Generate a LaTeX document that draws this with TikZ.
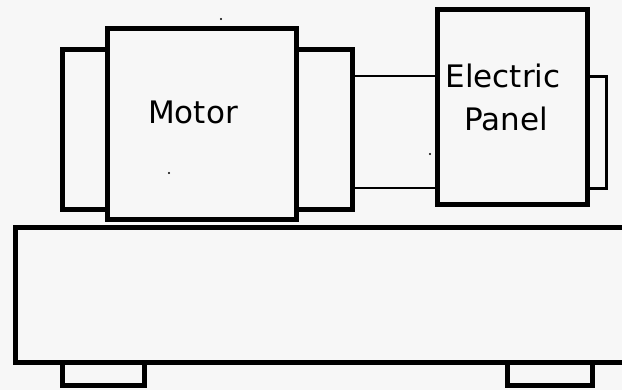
\documentclass[tikz,border=0pt]{standalone}
\usepackage{fontspec}
\setmainfont{DejaVu Sans}
\definecolor{paper}{HTML}{F7F7F7}
\begin{document}
\begin{tikzpicture}[x=1pt,y=-1pt,
  thickline/.style={draw=black,line width=5pt,fill=paper},
  thinline/.style={draw=black,line width=2pt},
  midline/.style={draw=black,line width=3pt,fill=paper},
  label/.style={font=\fontsize{31}{43}\selectfont,align=center,inner sep=0pt},
  speck/.style={fill=black}]
\fill[paper] (0,0) rectangle (622,390);
\useasboundingbox (0,0) rectangle (622,390);
\clip (0,0) rectangle (622,390);
% motor end caps
\draw[thickline] (62,49.5) rectangle (107.5,209.5);
\draw[thickline] (296.5,49.5) rectangle (352.5,209.5);
% motor body
\draw[thickline] (107.5,28.5) rectangle (296.5,219.5);
\node[label,anchor=base] (motor) at (193,124) {Motor};
% electric panel side box
\draw[midline] (587,76.5) rectangle (606.5,188.5);
% electric panel
\draw[thickline] (437,10) rectangle (587,204.5);
\node[label,anchor=base] (el) at (503,88) {Electric};
\node[label,anchor=base] (pa) at (506,131) {Panel};
% shaft lines
\coordinate (s1a) at (352.5,76.5);
\coordinate (s1b) at (437,76.5);
\coordinate (s2a) at (352.5,188);
\coordinate (s2b) at (437,188);
\draw[thinline] (s1a) -- (s1b);
\draw[thinline] (s2a) -- (s2b);
% feet
\draw[thickline] (62,362.5) rectangle (144.5,385.5);
\draw[thickline] (507.5,362.5) rectangle (592.5,385.5);
% base
\draw[thickline] (15.5,228) rectangle (630,362.5);
% specks
\fill[speck] (221,19) circle (1.1);
\fill[speck] (169,173) circle (1.1);
\fill[speck] (430,154) circle (1.1);
\end{tikzpicture}
\end{document}
